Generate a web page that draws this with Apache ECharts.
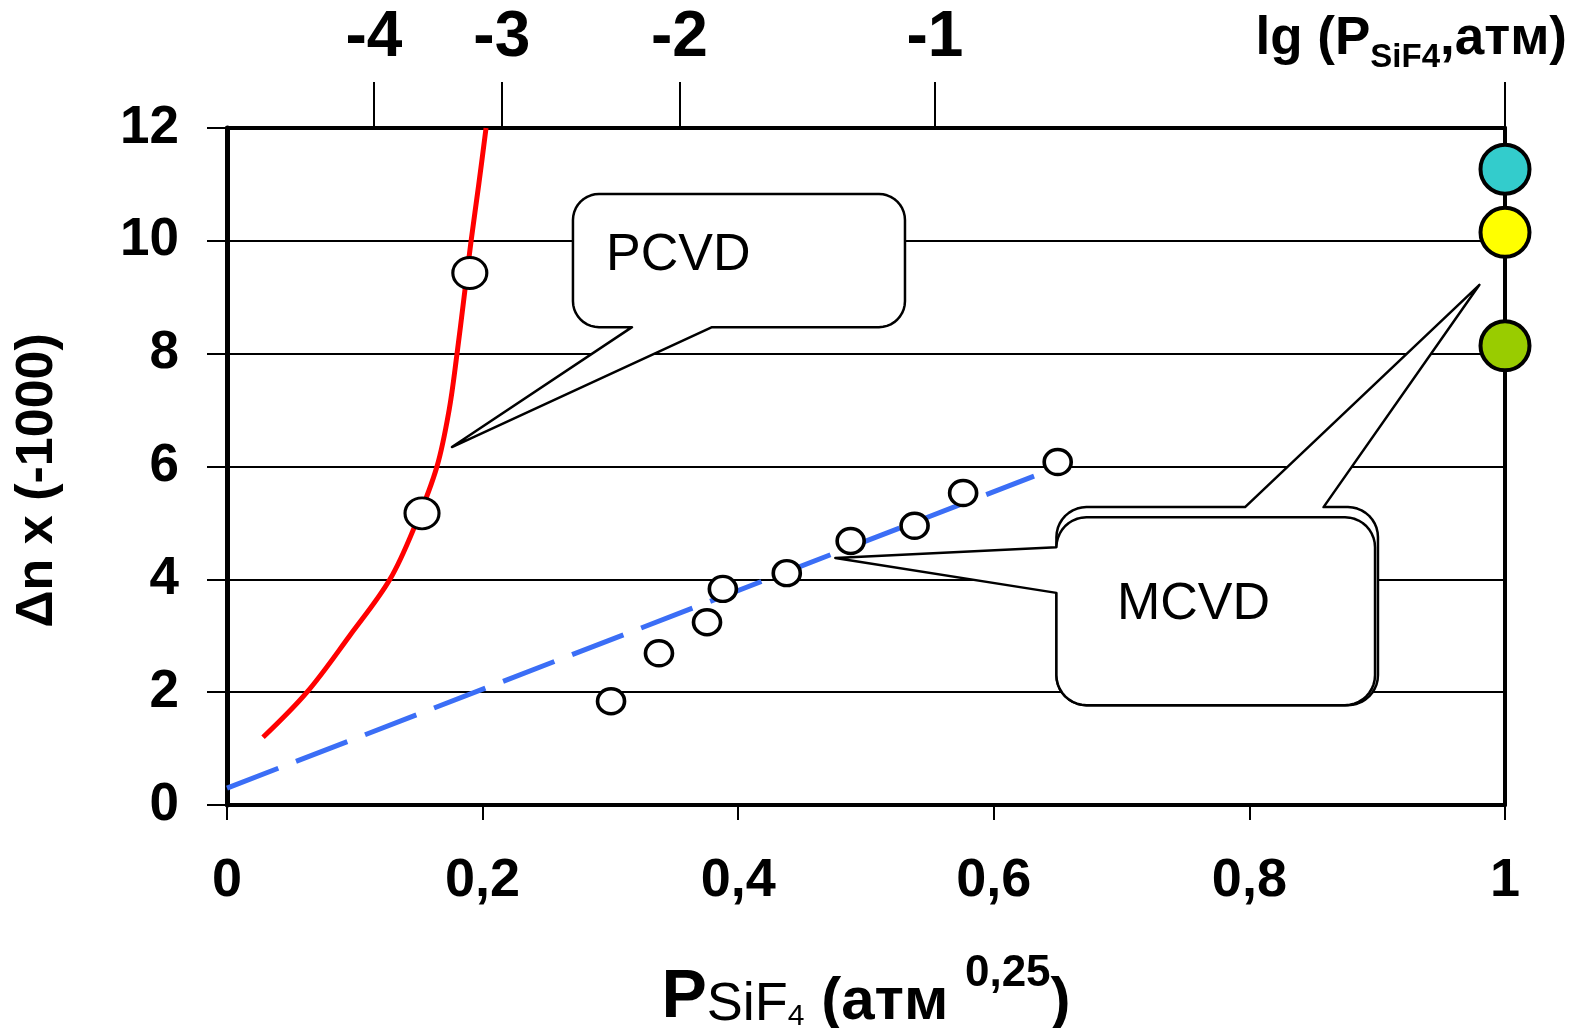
<!DOCTYPE html>
<html>
<head>
<meta charset="utf-8">
<script src="https://cdn.jsdelivr.net/npm/echarts@6/dist/echarts.min.js"></script>
<style>
  html, body { margin: 0; padding: 0; background: #ffffff; }
  #chart { width: 1573px; height: 1028px; }
</style>
</head>
<body>
<div id="chart"></div>
<script>
// Lower axis: P(SiF4)^0.25, left axis: Δn × (−1000)
const xTickLabels = ['0', '0,2', '0,4', '0,6', '0,8', '1'];
const yTickLabels = ['0', '2', '4', '6', '8', '10', '12'];

// Upper axis: lg P(SiF4) marks and where they sit on the P^0.25 scale
const lgTickLabels = ['-4', '-3', '-2', '-1'];
const lgTickPos = [0.115, 0.215, 0.354, 0.554, 1.0];

// PCVD trend curve (red)
const pcvdCurveX = [0.0282, 0.0626, 0.096, 0.1275, 0.148, 0.1643, 0.1738, 0.180, 0.1855, 0.191, 0.197, 0.2027];
const pcvdCurveY = [1.2, 2, 3, 4, 5, 6, 7, 8, 9, 10, 11, 12];

// PCVD measured points
const pcvdX = [0.1526, 0.190];
const pcvdY = [5.17, 9.43];

// MCVD measured points
const mcvdX = [0.3005, 0.338, 0.3756, 0.388, 0.438, 0.488, 0.538, 0.576, 0.650];
const mcvdY = [1.84, 2.69, 3.24, 3.83, 4.11, 4.68, 4.95, 5.53, 6.08];

// MCVD linear trend (blue, dashed)
const mcvdFitX = [0, 0.6315];
const mcvdFitY = [0.3, 5.83];

// Values at P = 1 atm
const refY = [11.27, 10.15, 8.14];
const refColors = ['#33CCCC', '#FFFF00', '#99CC00'];

const SANS = '"Liberation Sans", Arial, Helvetica, sans-serif';

const zip = (xs, ys) => xs.map((x, i) => [x, ys[i]]);

const chart = echarts.init(document.getElementById('chart'), null, { renderer: 'canvas' });

const option = {
  animation: false,
  backgroundColor: '#ffffff',
  grid: { left: 227, right: 68, top: 128, bottom: 223, outerBoundsMode: 'none', containLabel: false },
  xAxis: [
    {
      type: 'value', position: 'bottom', min: 0, max: 1, interval: 0.2,
      axisLine: { onZero: false, lineStyle: { color: '#000', width: 4 } },
      axisTick: { length: 15, lineStyle: { color: '#000', width: 2 } },
      splitLine: { show: false },
      axisLabel: {
        margin: 49, color: '#000', fontFamily: SANS, fontWeight: 'bold', fontSize: 54,
        formatter: v => xTickLabels[Math.round(v / 0.2)]
      },
      name: '{p|P}{f|SiF}{sb|4}{b| (атм }{sp|0,25}{b|)}',
      nameLocation: 'middle',
      nameGap: 147,
      nameTextStyle: {
        rich: {
          p: { fontFamily: SANS, fontWeight: 'bold', fontSize: 68, lineHeight: 80, verticalAlign: 'bottom', color: '#000' },
          f: { fontFamily: SANS, fontWeight: 'normal', fontSize: 54, lineHeight: 71, verticalAlign: 'bottom', color: '#000' },
          sb: { fontFamily: SANS, fontWeight: 'normal', fontSize: 30, lineHeight: 38, verticalAlign: 'bottom', color: '#000' },
          b: { fontFamily: SANS, fontWeight: 'bold', fontSize: 60, lineHeight: 76, verticalAlign: 'bottom', color: '#000' },
          sp: { fontFamily: SANS, fontWeight: 'bold', fontSize: 44, lineHeight: 62, verticalAlign: 'top', color: '#000' }
        }
      }
    },
    {
      type: 'value', position: 'top', min: 0, max: 1,
      axisLine: { onZero: false, lineStyle: { color: '#000', width: 4 } },
      axisTick: { customValues: lgTickPos, length: 46, lineStyle: { color: '#000', width: 2 } },
      splitLine: { show: false },
      axisLabel: {
        customValues: lgTickPos.slice(0, lgTickLabels.length),
        margin: 58, color: '#000', fontFamily: SANS, fontWeight: 'bold', fontSize: 64,
        formatter: v => lgTickLabels[lgTickPos.indexOf(v)]
      },
      name: '{m|lg (P}{s|SiF4}{m|,атм)}',
      nameLocation: 'end',
      nameGap: 62,
      nameTextStyle: {
        align: 'right', verticalAlign: 'bottom', padding: [0, 0, 54, 0],
        rich: {
          m: { fontFamily: SANS, fontWeight: 'bold', fontSize: 53, lineHeight: 70, color: '#000' },
          s: { fontFamily: SANS, fontWeight: 'bold', fontSize: 33, lineHeight: 24, verticalAlign: 'bottom', color: '#000' }
        }
      }
    }
  ],
  yAxis: [
    {
      type: 'value', position: 'left', min: 0, max: 12, interval: 2,
      axisLine: { show: true, onZero: false, lineStyle: { color: '#000', width: 5 } },
      axisTick: { show: true, length: 20, lineStyle: { color: '#000', width: 2 } },
      splitLine: { show: true, lineStyle: { color: '#000', width: 2 } },
      axisLabel: {
        margin: 48, color: '#000', fontFamily: SANS, fontWeight: 'bold', fontSize: 53,
        formatter: v => yTickLabels[Math.round(v / 2)]
      },
      name: 'Δn x (-1000)',
      nameLocation: 'middle',
      nameGap: 163,
      nameTextStyle: {
        color: '#000', fontFamily: SANS, fontWeight: 'bold', fontSize: 52,
        padding: [0, 28, 0, 0]
      }
    },
    {
      type: 'value', position: 'right', min: 0, max: 12, interval: 2,
      axisLine: { show: true, onZero: false, lineStyle: { color: '#000', width: 4 } },
      axisTick: { show: false },
      axisLabel: { show: false },
      splitLine: { show: false }
    }
  ],
  series: [
    {
      name: 'PCVD trend', type: 'line', xAxisIndex: 0, yAxisIndex: 0,
      data: zip(pcvdCurveX, pcvdCurveY),
      smooth: 0.35, symbol: 'none', z: 3,
      lineStyle: { color: '#FF0000', width: 5 }
    },
    {
      name: 'MCVD trend', type: 'line', xAxisIndex: 0, yAxisIndex: 0,
      data: zip(mcvdFitX, mcvdFitY),
      symbol: 'none', z: 3,
      lineStyle: { color: '#3B6EF6', width: 5, type: [55, 19], cap: 'butt' }
    },
    {
      name: 'PCVD', type: 'scatter', xAxisIndex: 0, yAxisIndex: 0,
      data: zip(pcvdX, pcvdY),
      symbol: 'circle', symbolSize: [34, 31], z: 5,
      itemStyle: { color: '#ffffff', borderColor: '#000', borderWidth: 3, opacity: 1 }
    },
    {
      name: 'MCVD', type: 'scatter', xAxisIndex: 0, yAxisIndex: 0,
      data: zip(mcvdX, mcvdY),
      symbol: 'circle', symbolSize: [27, 25], z: 5,
      itemStyle: { color: '#ffffff', borderColor: '#000', borderWidth: 3.5, opacity: 1 }
    },
    {
      name: 'P = 1', type: 'scatter', xAxisIndex: 0, yAxisIndex: 0, clip: false,
      data: refY.map((y, i) => ({ value: [1, y], itemStyle: { color: refColors[i] } })),
      symbol: 'circle', symbolSize: 49, z: 6,
      itemStyle: { borderColor: '#000', borderWidth: 4, opacity: 1 }
    }
  ]
};

chart.setOption(option);

// Speech-bubble annotations, laid out in data units and converted to pixels
const callouts = [
  { text: 'PCVD', box: [0.2707, 10.83, 0.5305, 8.47], radius: 26,
    edge: 'bottom', base: [0.3169, 0.3795], tip: [0.176, 6.345], textAt: [0.2966, 9.73] },
  { text: null, box: [0.649, 5.28, 0.9006, 1.77], radius: 30,
    edge: 'top', base: [0.7966, 0.858], tip: [0.980, 9.22] },
  { text: 'MCVD', box: [0.649, 5.10, 0.8983, 1.77], radius: 30,
    edge: 'left', base: [4.57, 3.76], tip: [0.476, 4.38], textAt: [0.6964, 3.545] }
];

const toPx = p => chart.convertToPixel({ xAxisIndex: 0, yAxisIndex: 0 }, p);

function bubblePoints(c) {
  const tl = toPx([c.box[0], c.box[1]]);
  const br = toPx([c.box[2], c.box[3]]);
  const x0 = tl[0], y0 = tl[1], x1 = br[0], y1 = br[1];
  const r = c.radius;
  const tip = toPx(c.tip);
  const pts = [];
  const arc = (cx, cy, a0, a1) => {
    for (let i = 0; i <= 10; i++) {
      const t = a0 + (a1 - a0) * i / 10;
      pts.push([cx + r * Math.cos(t), cy + r * Math.sin(t)]);
    }
  };
  arc(x0 + r, y0 + r, Math.PI, 1.5 * Math.PI);
  if (c.edge === 'top') {
    const a = toPx([c.base[0], 0])[0], b = toPx([c.base[1], 0])[0];
    pts.push([a, y0], tip, [b, y0]);
  }
  arc(x1 - r, y0 + r, 1.5 * Math.PI, 2 * Math.PI);
  arc(x1 - r, y1 - r, 0, 0.5 * Math.PI);
  if (c.edge === 'bottom') {
    const a = toPx([c.base[0], 0])[0], b = toPx([c.base[1], 0])[0];
    pts.push([b, y1], tip, [a, y1]);
  }
  arc(x0 + r, y1 - r, 0.5 * Math.PI, Math.PI);
  if (c.edge === 'left') {
    const a = toPx([0, c.base[0]])[1], b = toPx([0, c.base[1]])[1];
    pts.push([x0, b], tip, [x0, a]);
  }
  return pts;
}

const graphics = [];
callouts.forEach((c, i) => {
  graphics.push({
    type: 'polygon', z: 50 + i * 2,
    shape: { points: bubblePoints(c) },
    style: { fill: '#ffffff', stroke: '#000000', lineWidth: 2.5, lineJoin: 'round' }
  });
  if (c.text) {
    const p = toPx(c.textAt);
    graphics.push({
      type: 'text', z: 51 + i * 2, x: p[0], y: p[1],
      style: {
        text: c.text, fill: '#000000',
        font: '52px ' + SANS,
        align: 'left', verticalAlign: 'middle',
        textAlign: 'left', textVerticalAlign: 'middle'
      }
    });
  }
});

chart.setOption({ graphic: { elements: graphics } });
</script>
</body>
</html>
